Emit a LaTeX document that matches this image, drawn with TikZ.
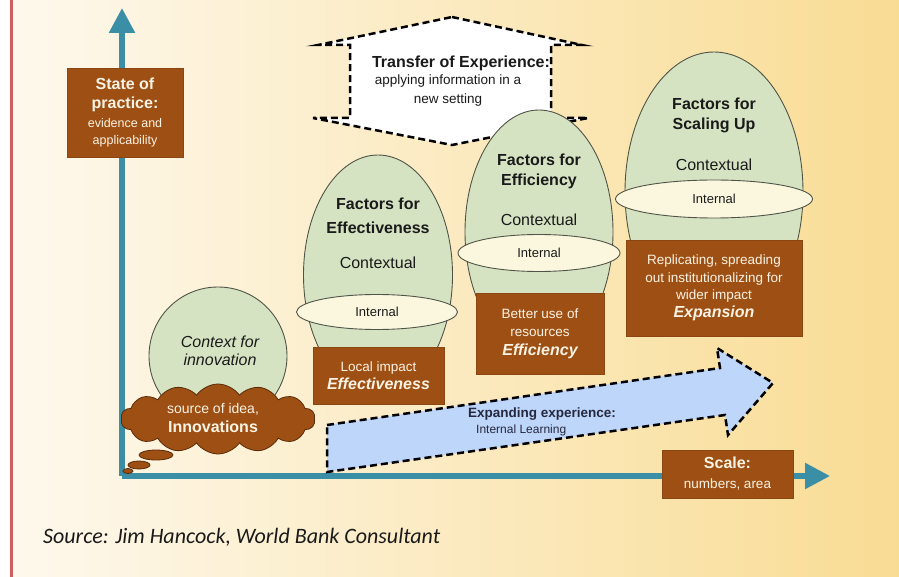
\documentclass[tikz,border=0pt]{standalone}
\usepackage{fontspec}
\setmainfont{Liberation Sans}
\newfontfamily\srcfont{Carlito}
\usetikzlibrary{shapes.geometric,shapes.symbols,arrows.meta}
\definecolor{brownbox}{RGB}{158,80,20}
\definecolor{brownedge}{RGB}{140,70,18}
\definecolor{clouddark}{RGB}{90,42,8}
\definecolor{boxtext}{RGB}{250,243,228}
\definecolor{egggreen}{RGB}{214,227,195}
\definecolor{eggline}{RGB}{80,84,70}
\definecolor{innercream}{RGB}{250,247,222}
\definecolor{axisteal}{RGB}{58,142,166}
\definecolor{redline}{RGB}{205,95,95}
\definecolor{bgleft}{RGB}{254,249,238}
\definecolor{bgright}{RGB}{249,220,148}
\definecolor{arrowblue}{RGB}{190,214,250}
\definecolor{navy}{RGB}{38,40,62}
\definecolor{textdark}{RGB}{26,26,26}
\newcommand\myfs[2]{\fontsize{#1}{#2}\selectfont}
\newcommand\bfit{\fontsize{16}{18}\selectfont\bfseries\itshape}
\begin{document}
\begin{tikzpicture}[x=1pt,y=-1pt,
  box/.style={rectangle, fill=brownbox, draw=brownedge, line width=0.6pt, text=boxtext, align=center, inner sep=0pt},
  egg/.style={ellipse, fill=egggreen, draw=eggline, line width=0.9pt, inner sep=0pt},
  innerell/.style={ellipse, fill=innercream, draw=eggline, line width=0.9pt, inner sep=0pt, text=textdark, font=\myfs{13}{15}},
  lbl/.style={align=center, inner sep=0pt, text=textdark},
  dashline/.style={draw=black, line width=2.5pt, dash pattern=on 7pt off 4pt},
  axisline/.style={draw=axisteal, line width=5.5pt, -{Triangle[length=25pt,width=25pt]}},
  bubble/.style={ellipse, fill=brownbox, draw=clouddark, line width=0.8pt, inner sep=0pt}
]
\useasboundingbox (0,0) rectangle (899,577);
% background
\fill[left color=bgleft, right color=bgright] (0,0) rectangle (899,577);
\fill[white] (0,0) rectangle (9,577);
\draw[redline, line width=3pt] (11,0) -- (11,577);

% axes
\coordinate (origin) at (122,476);
\coordinate (ytip) at (122,8);
\coordinate (xtip) at (830,476);
\draw[axisline] (origin) -- (ytip);
\draw[axisline] (origin) -- (xtip);

% transfer of experience
\draw[dashline, fill=white] (452,17) -- (582,45) -- (551,45) -- (551,118) -- (588,118)
  -- (452,145) -- (313,118) -- (350,118) -- (350,45) -- (318,45) -- cycle;
\node[lbl, font=\myfs{16}{19}\bfseries] (tr1) at (461,63) {Transfer of Experience:};
\node[lbl, font=\myfs{13.5}{19}] (tr2) at (448,91) {applying information in a\\new setting};

% state of practice
\node[box, font=\myfs{16}{19}, minimum width=116pt, minimum height=89pt] (state) at (125,113)
  {\bfseries State of\\\bfseries practice:\\\myfs{12.5}{19}evidence and\\[-2pt]\myfs{12.5}{19}applicability};

% context circle
\node[egg, circle, minimum size=138pt] (ctx) at (218,356) {};
\node[lbl, font=\myfs{16}{18}\itshape] (ctxt) at (220,351) {Context for\\innovation};

% cloud
\node[cloud, cloud puffs=14, cloud puff arc=110, aspect=2.6, fill=brownbox, draw=clouddark,
  line width=0.8pt, minimum width=194pt, minimum height=70pt, inner sep=0pt] (cloud) at (218,419) {};
\node[lbl, text=boxtext, font=\myfs{14}{19}] (idea) at (213,418)
  {source of idea,\\\myfs{16}{19}\bfseries Innovations};
\node[bubble, minimum width=34pt, minimum height=10pt] (b1) at (156,455) {};
\node[bubble, minimum width=22pt, minimum height=8pt] (b2) at (139,465) {};
\node[bubble, minimum width=10pt, minimum height=5pt] (b3) at (128,471) {};

% egg 1
\node[egg, minimum width=149pt, minimum height=240pt] (egg1) at (378,275) {};
\node[lbl, font=\myfs{16}{24}\bfseries] (t1) at (378,216) {Factors for\\Effectiveness};
\node[lbl, font=\myfs{16}{19}] (c1) at (378,263) {Contextual};
\node[innerell, minimum width=161pt, minimum height=35pt] (i1) at (377,312) {Internal};
\node[box, font=\myfs{13.5}{18}, minimum width=131pt, minimum height=57pt] (bx1) at (378.5,375.5)
  {Local impact\\\bfit Effectiveness};

% egg 2
\node[egg, minimum width=148pt, minimum height=244pt] (egg2) at (539,232) {};
\node[lbl, font=\myfs{16}{20}\bfseries] (t2) at (539,171) {Factors for\\Efficiency};
\node[lbl, font=\myfs{16}{19}] (c2) at (539,220) {Contextual};
\node[innerell, minimum width=162pt, minimum height=37pt] (i2) at (539,253) {Internal};
\node[box, font=\myfs{13.5}{18.5}, minimum width=128pt, minimum height=81pt] (bx2) at (540,333.5)
  {Better use of\\resources\\\bfit Efficiency};

% egg 3
\node[egg, minimum width=178pt, minimum height=280pt] (egg3) at (714,192) {};
\node[lbl, font=\myfs{16}{20}\bfseries] (t3) at (714,115) {Factors for\\Scaling Up};
\node[lbl, font=\myfs{16}{19}] (c3) at (714,165) {Contextual};
\node[innerell, minimum width=197pt, minimum height=38pt] (i3) at (714,199) {Internal};
\node[box, font=\myfs{13.5}{17.5}, minimum width=176pt, minimum height=96pt] (bx3) at (714,288)
  {Replicating, spreading\\out institutionalizing for\\wider impact\\\bfit Expansion};

% blue arrow
\draw[dashline, fill=arrowblue] (327,425) -- (720,368) -- (717,348) -- (773,383)
  -- (728,435) -- (725,415) -- (327,472) -- cycle;
\node[anchor=west, inner sep=0pt, text=navy, font=\myfs{13.5}{16}\bfseries] (exp1) at (468,414) {Expanding experience:};
\node[anchor=west, inner sep=0pt, text=navy, font=\myfs{12}{14}] (exp2) at (476,430) {Internal Learning};

% scale
\node[box, font=\myfs{13.5}{20}, minimum width=131pt, minimum height=48pt] (scale) at (727.5,474)
  {\myfs{16}{20}\bfseries Scale:\\numbers, area};

% source
\node[anchor=west, inner sep=0pt, text=textdark, font=\srcfont\itshape\myfs{22}{26}] (src) at (43,537)
  {Source: Jim Hancock, World Bank Consultant};
\end{tikzpicture}
\end{document}
